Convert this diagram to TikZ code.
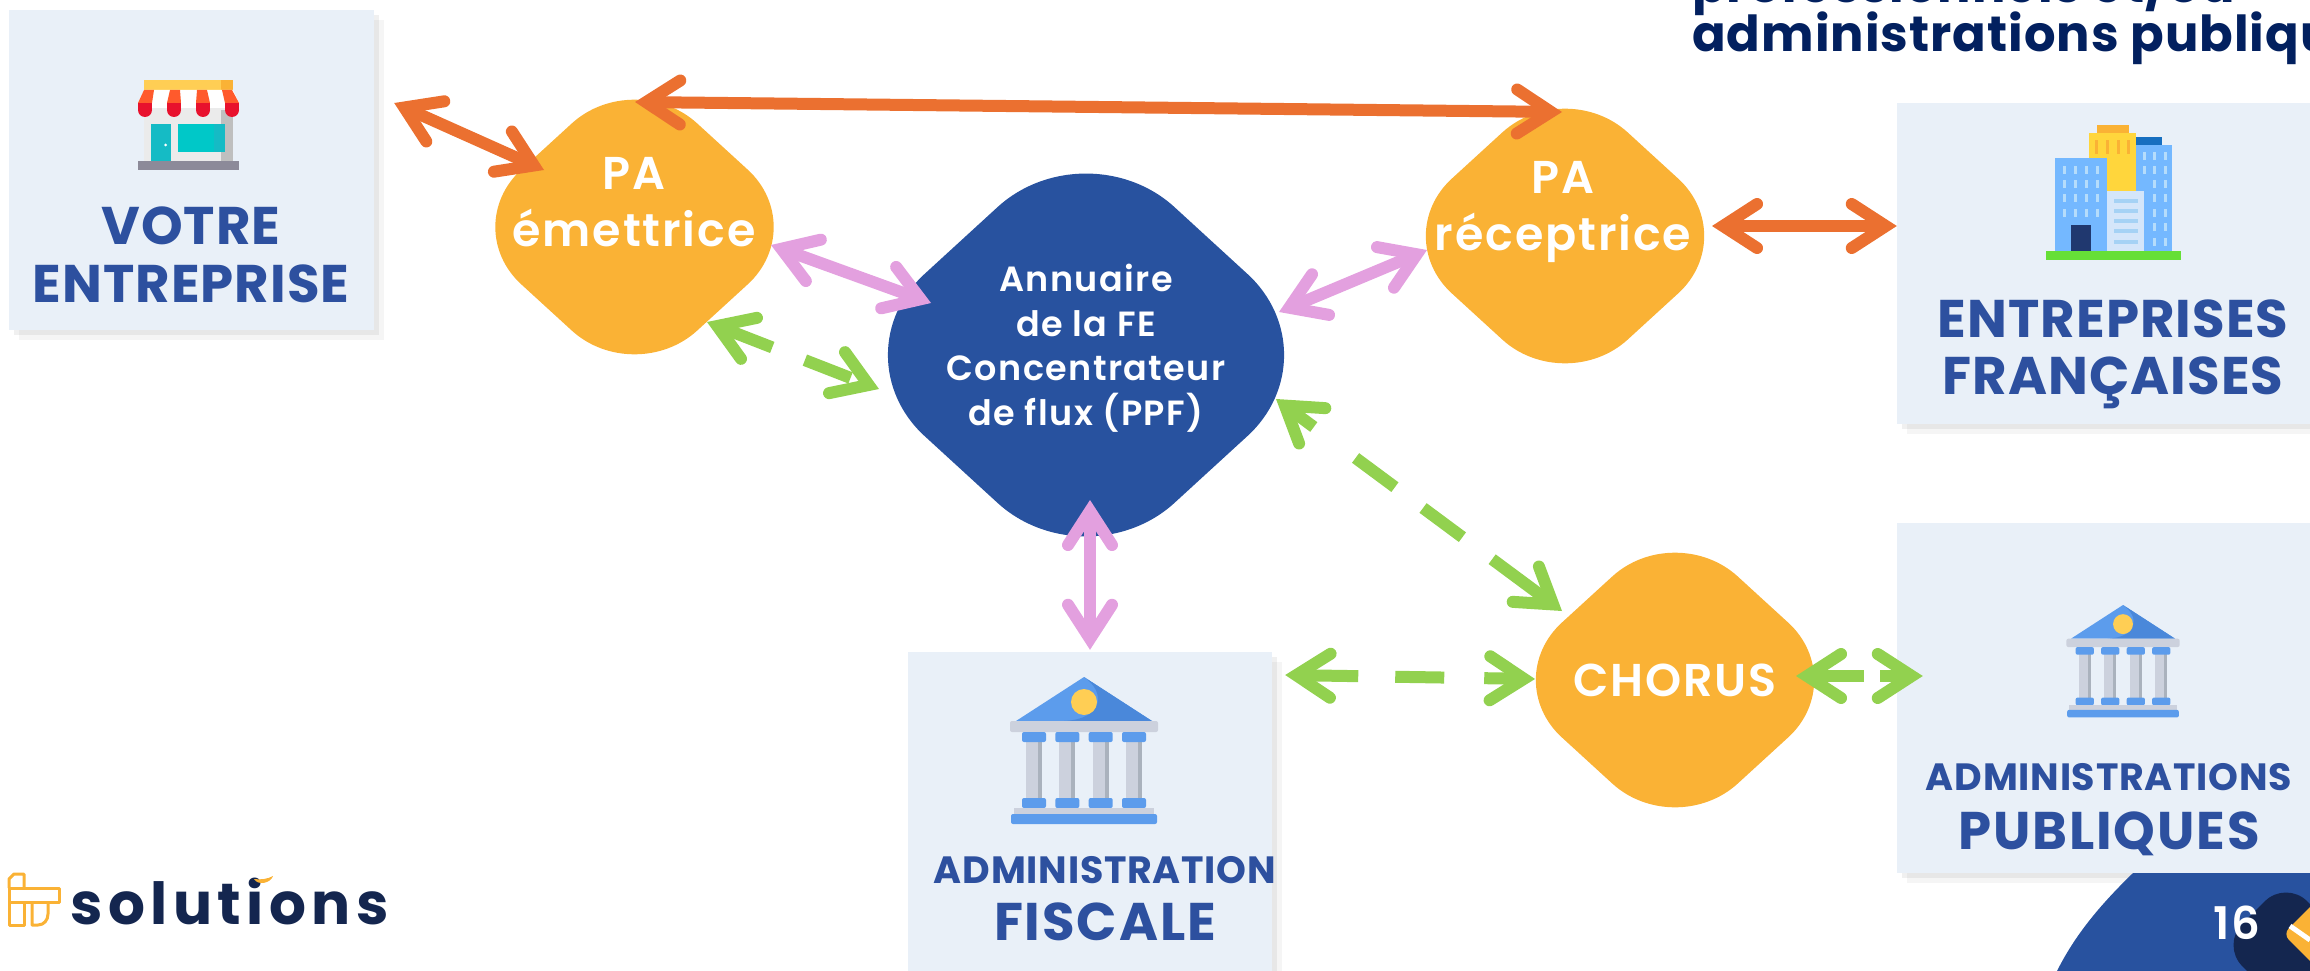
\documentclass[tikz,border=0pt]{standalone}
\usepackage{fontspec}
\setmainfont{Poppins}
\newfontfamily\tightfont[LetterSpace=2]{Poppins}
\newfontfamily\widefont[LetterSpace=3.5]{Poppins}
\newfontfamily\logofont[LetterSpace=9.5]{Poppins}
\newfontfamily\blobfont[BoldFont={Poppins SemiBold},LetterSpace=4]{Poppins}
\usetikzlibrary{shapes.geometric, arrows.meta, shadows}

\definecolor{panelfill}{HTML}{E9F0F8}
\definecolor{panelink}{HTML}{2D509F}
\definecolor{blobyellow}{HTML}{FAB235}
\definecolor{blobblue}{HTML}{28529F}
\definecolor{linkorange}{HTML}{EB7030}
\definecolor{linkpink}{HTML}{E3A0DF}
\definecolor{linkgreen}{HTML}{92D14F}
\definecolor{inknavy}{HTML}{14264F}
\definecolor{titlenavy}{HTML}{02205F}
\definecolor{stoneblue}{HTML}{5C9CEC}
\definecolor{stonedark}{HTML}{4A88DA}
\definecolor{stonegrey}{HTML}{CCD1DD}
\definecolor{stoneshade}{HTML}{AAB2BD}
\definecolor{coinyellow}{HTML}{FFCE54}
\definecolor{towerblue}{HTML}{74B8FF}
\definecolor{towerpale}{HTML}{D4E6FA}
\definecolor{towerwindow}{HTML}{B5DCFB}
\definecolor{towerstripe}{HTML}{A5D2F5}
\definecolor{towergold}{HTML}{FFD63C}
\definecolor{shopteal}{HTML}{15BBC5}
\definecolor{shopglass}{HTML}{00C8C8}
\definecolor{shopred}{HTML}{E8112D}
\definecolor{shopstripe}{HTML}{FF5A2C}
\definecolor{shopstep}{HTML}{8C8A99}

\begin{document}
\begin{tikzpicture}[
    x=1pt, y=-1pt,
    panel/.style={rectangle, fill=panelfill, inner sep=0pt,
        drop shadow={shadow xshift=10pt, shadow yshift=-10pt, opacity=0.04, fill=black},
        drop shadow={shadow xshift=5pt, shadow yshift=-5pt, opacity=0.06, fill=black}},
    blob/.style={diamond, fill=blobyellow, inner sep=0pt, minimum width=352pt, minimum height=322pt, rounded corners=85pt},
    paneltext/.style={text=panelink, align=center, inner sep=0pt},
    blobtext/.style={font=\blobfont\bfseries\fontsize{46}{57}\selectfont, text=white, align=center, inner sep=0pt},
    barbed/.style={line width=12pt, {Straight Barb[line cap=round, length=34pt, width=44pt, line width=12pt]}-{Straight Barb[line cap=round, length=34pt, width=44pt, line width=12pt]}},
    orangelink/.style={barbed, draw=linkorange},
    pinklink/.style={barbed, draw=linkpink},
    greenlink/.style={barbed, draw=linkgreen},
    temple/.pic={
        \fill[stoneblue] (-68,44) -- (0,0) -- (68,44) -- cycle;
        \fill[stonedark] (0,0) -- (68,44) -- (-20,44) .. controls (20,42) and (22,15) .. cycle;
        \fill[coinyellow] (0,25) circle (13);
        \fill[stonegrey, rounded corners=2pt] (-74,44) rectangle (74,55);
        \foreach \cx in {-50,-16.7,16.7,50} {
            \fill[stonegrey] (\cx-8,60) rectangle (\cx+8,125);
            \fill[stoneshade] (\cx+4,60) rectangle (\cx+8,125);
            \fill[stoneblue, rounded corners=2pt] (\cx-12,55) rectangle (\cx+12,65);
            \fill[stoneblue, rounded corners=2pt] (\cx-12,121) rectangle (\cx+12,131);
        }
        \fill[stonegrey] (-70,131) rectangle (70,138);
        \fill[stoneblue, rounded corners=2pt] (-73,137) rectangle (73,147);
    }
]
    \useasboundingbox (0,0) rectangle (2310,971);
    \clip (0,0) rectangle (2310,971);

    % Panels
    \node[panel, minimum width=365pt, minimum height=320pt] (votre) at (191.5,170) {};
    \node[panel, minimum width=433pt, minimum height=321pt] (entreprises) at (2113.5,263.5) {};
    \node[panel, minimum width=433pt, minimum height=350pt] (publiques) at (2113.5,698) {};
    \node[panel, minimum width=364pt, minimum height=338pt] (fiscale) at (1090,821) {};

    % Blobs
    \node[blob] (emettrice) at (634.5,227) {};
    \node[blob] (receptrice) at (1565,236) {};
    \node[blob, font=\blobfont\bfseries\fontsize{46}{50}\selectfont, text=white] (chorus) at (1675,680) {CHORUS};
    \node[blob, fill=blobblue, minimum width=500pt, minimum height=458pt, rounded corners=120pt] (annuaire) at (1086,355) {};

    % Blob texts
    \node[blobtext] (emettricetext) at (634,202) {PA\\émettrice};
    \node[blobtext] (receptricetext) at (1563,212) {PA\\réceptrice};
    \node[blobtext, font=\blobfont\bfseries\fontsize{35}{44.5}\selectfont] (annuairetext) at (1086,348) {Annuaire\\de la FE\\Concentrateur\\de flux (PPF)};

    % Panel texts
    \node[paneltext, font=\tightfont\bfseries\fontsize{53}{58}\selectfont] (votretext) at (191,255) {VOTRE\\ENTREPRISE};
    \node[paneltext, font=\tightfont\bfseries\fontsize{53}{57}\selectfont] (entreprisestext) at (2113,354) {ENTREPRISES\\FRANÇAISES};
    \node[paneltext, font=\tightfont\bfseries\fontsize{38}{38}\selectfont] (publiqueshaut) at (2109,777) {ADMINISTRATIONS};
    \node[paneltext, font=\widefont\bfseries\fontsize{53}{53}\selectfont] (publiquesbas) at (2109,834) {PUBLIQUES};
    \node[paneltext, font=\tightfont\bfseries\fontsize{38}{38}\selectfont] (fiscalehaut) at (1105,870) {ADMINISTRATION};
    \node[paneltext, font=\widefont\bfseries\fontsize{53}{53}\selectfont] (fiscalebas) at (1105,922) {FISCALE};

    % Title cut by the page edge
    \node[anchor=base west, inner sep=0pt, font=\tightfont\bfseries\fontsize{49.6}{50}\selectfont, text=titlenavy] (titlehaut) at (1692,3) {professionnels et/ou};
    \node[anchor=base west, inner sep=0pt, font=\tightfont\bfseries\fontsize{49.6}{50}\selectfont, text=titlenavy] (titlebas) at (1692,52) {administrations publiques};

    % Shop
    \fill[coinyellow] (144,80) rectangle (233,90);
    \fill[blobyellow] (221,80) rectangle (233,90);
    \fill[white!92!black] (144,103) rectangle (233,161);
    \fill[black!25] (221,110) rectangle (233,161);
    \fill[white] (144,90) -- (233,90) -- (239,103) -- (239,108) -- (138,108) -- (138,103) -- cycle;
    \foreach \sx/\tx in {138/144,167/170,196/197,225/222} {
        \fill[shopstripe] (\tx,90) -- (\tx+10,90) -- (\sx+14,103) -- (\sx,103) -- cycle;
        \fill[shopred] (\sx,103) rectangle (\sx+14,110);
        \fill[shopred] (\sx+7,110) circle (7);
    }
    \fill[shopteal] (151,124) rectangle (171,161);
    \fill[white] (165.5,145) circle (1.5);
    \fill[shopglass] (178,124) rectangle (225,152);
    \fill[shopteal] (214,124) rectangle (225,152);
    \fill[shopstep] (138,161) rectangle (239,170);

    % Office towers
    \fill[blobyellow] (2097,125) rectangle (2129,133);
    \fill[cyan!50!blue] (2136,137) rectangle (2162,145);
    \fill[towergold] (2089,133) rectangle (2136,191);
    \fill[towerblue] (2055,158) rectangle (2107,251);
    \fill[towerblue] (2136,145) rectangle (2172,251);
    \fill[towerpale] (2107,191) rectangle (2144,251);
    \fill[panelink!70!black] (2071,225) rectangle (2091,251);
    \fill[linkgreen!70!green] (2046,251) rectangle (2181,260);
    \foreach \wx in {2064,2075,2086,2097} \foreach \wy in {170,184,198,213} {
        \fill[towerwindow] (\wx-1.5,\wy-4) rectangle (\wx+1.5,\wy+4);
    }
    \foreach \wx in {2154,2165} \foreach \wy in {156,170,184,198,213,227,242} {
        \fill[towerwindow] (\wx-1.5,\wy-4) rectangle (\wx+1.5,\wy+4);
    }
    \foreach \wy in {156,170} {
        \fill[towerwindow] (2143,\wy-4) rectangle (2146,\wy+4);
    }
    \foreach \wy in {201,211,221,231,242} {
        \fill[towerstripe] (2114,\wy-2) rectangle (2138,\wy+2);
    }
    \foreach \wx in {2096,2107,2118,2128} {
        \fill[blobyellow] (\wx-1.5,140) rectangle (\wx+1.5,154);
    }

    % Temples
    \pic (templefiscale) at (1084,677) {temple};
    \pic[scale=0.765] (templepublique) at (2123,605) {temple};

    % Orange links
    \draw[orangelink] ([shift={(20,-67)}]votre.east) -- ([shift={(-90.5,-57)}]emettrice.center);
    \draw[orangelink] ([shift={(0.5,-125)}]emettrice.center) -- ([shift={(-3,-124)}]receptrice.center);
    \draw[orangelink] ([shift={(147,-10)}]receptrice.center) -- ([shift={(0,-37.5)}]entreprises.west);

    % Pink links
    \draw[pinklink] ([shift={(136.5,18)}]emettrice.center) -- ([shift={(-155,-52)}]annuaire.center);
    \draw[pinklink] ([shift={(193,-43)}]annuaire.center) -- ([shift={(-138,14)}]receptrice.center);
    \draw[pinklink] ([shift={(4,145)}]annuaire.center) -- ([shift={(0,-2)}]fiscale.north);

    % Green links
    \draw[greenlink, dash pattern=on 53pt off 35pt on 49pt off 48pt] ([shift={(72.5,95)}]emettrice.center) -- ([shift={(-207,34)}]annuaire.center);
    \draw[greenlink, dash pattern=on 30pt off 52pt on 49pt off 35pt on 49pt off 37pt on 106pt] ([shift={(190,44)}]annuaire.center) -- ([shift={(-113,-69)}]chorus.center);
    \draw[greenlink, dash pattern=on 56pt off 37pt on 49pt off 40pt on 114pt] ([shift={(13,-146)}]fiscale.east) -- ([shift={(-140,-1)}]chorus.center);
    \draw[greenlink, dash pattern=on 51pt off 16pt on 60pt] ([shift={(121,-4)}]chorus.center) -- ([shift={(26,-22)}]publiques.west);

    % Page corner
    \fill[blobblue] (2133,873) .. controls (2100,905) and (2075,935) .. (2057,971) -- (2310,971) -- (2310,873) -- cycle;
    \node[diamond, fill=inknavy, inner sep=0pt, minimum width=130pt, minimum height=130pt, rounded corners=30pt] (cornerblob) at (2286,945) {};
    \node[diamond, fill=blobyellow, inner sep=0pt, minimum width=70pt, minimum height=70pt, rounded corners=8pt] (cornermark) at (2318,934) {};
    \draw[white, line width=5pt] ([shift={(-28,-8)}]cornermark.center) -- ([shift={(-8,6)}]cornermark.center);
    \node[inner sep=0pt, font=\blobfont\bfseries\fontsize{45}{45}\selectfont, text=white] (pagenumber) at (2237,923) {16};

    % Logo
    \draw[blobyellow, line width=3pt, line join=round] (9,888) -- (9,879) -- (14,874) -- (24,874) -- (24,888);
    \draw[blobyellow, line width=3pt, line join=round] (9,888) -- (59,888) -- (59,902) -- (9,902) -- cycle;
    \draw[blobyellow, line width=3pt, line join=round] (9,902) -- (9,925) -- (24,925) -- (24,902);
    \draw[blobyellow, line width=3pt, line join=round] (32,902) -- (32,925) -- (38,925) .. controls (44,925) and (48,920) .. (48,914) -- (48,902);
    \node[anchor=base west, inner sep=0pt, font=\logofont\bfseries\fontsize{58}{58}\selectfont, text=inknavy] (logotext) at (70,924) {solutions};
    \fill[blobyellow] (254,879) .. controls (260,880) and (268,879) .. (273,876) .. controls (271,883) and (258,886) .. cycle;
\end{tikzpicture}
\end{document}
